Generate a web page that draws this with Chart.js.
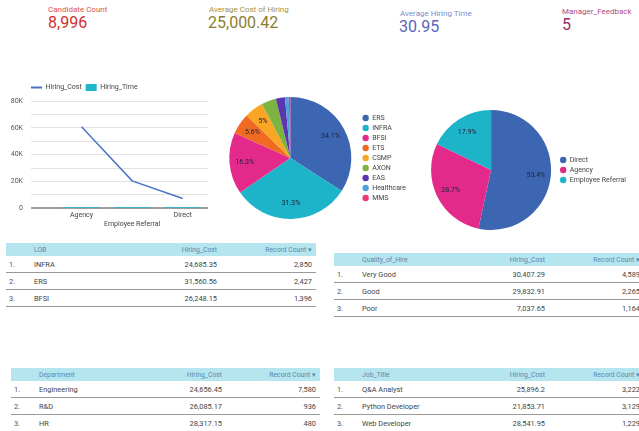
<!DOCTYPE html>
<html>
<head>
<meta charset="utf-8">
<script src="https://cdn.jsdelivr.net/npm/chart.js@4"></script>
<style>
  body { margin: 0; width: 639px; height: 431px; overflow: hidden; background: #fff; position: relative; font-family: Roboto, sans-serif; }
  .abs { position: absolute; white-space: nowrap; }
  .klbl { font-size: 8px; line-height: 8px; }
  .kval { font-size: 16px; line-height: 16px; }
  canvas { position: absolute; }
  table { position: absolute; border-collapse: collapse; table-layout: fixed; font-family: Roboto, sans-serif; }
  th { background: #b5e5ee; color: #5d86b0; font-weight: 400; font-size: 6.8px; height: 13px; padding: 0; text-align: left; }
  td { font-size: 7.4px; color: #444; height: 16px; padding: 0; border-bottom: 1px solid #9a9a9a; }
  .num { padding-left: 3px; color: #555; }
  .r { text-align: right; }
  .last { padding-right: 4px; }
</style>
</head>
<body>

<div class="abs klbl" style="left:48px;top:6px;color:#e0504e">Candidate Count</div>
<div class="abs kval" style="left:48px;top:15px;color:#d32f2f">8,996</div>
<div class="abs klbl" style="left:209px;top:6px;color:#a39447">Average Cost of Hiring</div>
<div class="abs kval" style="left:208px;top:15px;color:#8c7e2e">25,000.42</div>
<div class="abs klbl" style="left:400px;top:10px;color:#7f8bd0">Average Hiring Time</div>
<div class="abs kval" style="left:399px;top:19px;color:#5866bd">30.95</div>
<div class="abs klbl" style="left:562px;top:8px;color:#b04a7e">Manager_Feedback</div>
<div class="abs kval" style="left:562px;top:17px;color:#9c2a62">5</div>

<canvas id="lineChart" width="208" height="151" style="left:0;top:80px"></canvas>
<canvas id="lobPie" width="195" height="140" style="left:221px;top:88px"></canvas>
<canvas id="sourcePie" width="211" height="140" style="left:425px;top:100px"></canvas>

<table id="tLob" style="left:6px;top:243px;width:310px"></table>
<table id="tQuality" style="left:334px;top:253px;width:310px"></table>
<table id="tDept" style="left:11px;top:368px;width:309px"></table>
<table id="tJob" style="left:334px;top:368px;width:310px"></table>

<script>
// line chart
const sources = ['Agency', 'Employee Referral', 'Direct'];
const hiringCost = [60800, 20400, 7200];
const hiringTime = [31, 30, 31];

// pie: LOB share
const lobs = ['ERS', 'INFRA', 'BFSI', 'ETS', 'CSMP', 'AXON', 'EAS', 'Healthcare', 'MMS'];
const lobShare = [34.1, 31.3, 16.3, 5.6, 5.0, 3.9, 2.4, 1.0, 0.4];
const lobColors = ['#3c66b1', '#1db4ca', '#e32a8a', '#f06a21', '#f8a623', '#7cb342', '#5c35b0', '#4fa0e0', '#ec3b73'];

// pie: source share
const sourceNames = ['Direct', 'Agency', 'Employee Referral'];
const sourceShare = [53.4, 28.7, 17.9];
const sourceColors = ['#3c66b1', '#e32a8a', '#1db4ca'];

// tables
const lobRows = ['INFRA', 'ERS', 'BFSI'];
const lobCost = [24685.35, 31560.56, 26248.15];
const lobCount = [2850, 2427, 1396];

const qualityRows = ['Very Good', 'Good', 'Poor'];
const qualityCost = [30407.29, 29832.91, 7037.65];
const qualityCount = [4589, 2265, 1164];

const deptRows = ['Engineering', 'R&D', 'HR'];
const deptCost = [24656.45, 26085.17, 28317.15];
const deptCount = [7580, 936, 480];

const jobRows = ['Q&A Analyst', 'Python Developer', 'Web Developer'];
const jobCost = [25896.2, 21853.71, 28541.95];
const jobCount = [3222, 3129, 1229];

const fmt = v => v.toLocaleString('en-US', { maximumFractionDigits: 2 });

function buildTable(id, dim, names, cost, count) {
  const t = document.getElementById(id);
  const w = parseFloat(t.style.width);
  let html = `<colgroup><col style="width:28px"><col style="width:133px"><col style="width:50px"><col style="width:${w - 211}px"></colgroup>`;
  html += `<tr><th></th><th>${dim}</th><th class="r">Hiring_Cost</th><th class="r last">Record Count &#9662;</th></tr>`;
  names.forEach((n, i) => {
    html += `<tr><td class="num">${i + 1}.</td><td>${n.replace('&', '&amp;')}</td><td class="r">${fmt(cost[i])}</td><td class="r last">${fmt(count[i])}</td></tr>`;
  });
  t.innerHTML = html;
}
buildTable('tLob', 'LOB', lobRows, lobCost, lobCount);
buildTable('tQuality', 'Quality_of_Hire', qualityRows, qualityCost, qualityCount);
buildTable('tDept', 'Department', deptRows, deptCost, deptCount);
buildTable('tJob', 'Job_Title', jobRows, jobCost, jobCount);

Chart.defaults.font.family = 'Roboto';
Chart.defaults.animation = false;

// nudge the legend so it starts over the plot area, not the axis
const shiftLegend = {
  id: 'shiftLegend',
  afterLayout(chart, args, opts) {
    chart.legend.left += opts.dx;
    chart.legend.right += opts.dx;
  }
};

new Chart(document.getElementById('lineChart'), {
  type: 'line',
  data: {
    datasets: [
      {
        type: 'line',
        label: 'Hiring_Cost',
        data: sources.map((s, i) => ({ x: i, y: hiringCost[i] })),
        borderColor: '#4a74c4',
        borderWidth: 1.5,
        pointRadius: 0,
        tension: 0
      },
      {
        type: 'bar',
        label: 'Hiring_Time',
        data: sources.map((s, i) => ({ x: i, y: hiringTime[i] })),
        backgroundColor: '#1fb5c9',
        borderWidth: 0
      }
    ]
  },
  options: {
    responsive: false,
    layout: { padding: 0 },
    plugins: {
      tooltip: { enabled: false },
      shiftLegend: { dx: 27 },
      legend: {
        align: 'start',
        labels: {
          usePointStyle: true,
          pointStyleWidth: 11,
          boxHeight: 7,
          padding: 4,
          color: '#444',
          font: { size: 7 },
          generateLabels: (chart) => Chart.defaults.plugins.legend.labels.generateLabels(chart).map((l, i) => ({
            ...l,
            pointStyle: i === 0 ? 'line' : 'rect',
            lineWidth: i === 0 ? 2 : 0,
            strokeStyle: i === 0 ? '#4a74c4' : '#1fb5c9',
            fillStyle: i === 0 ? '#4a74c4' : '#1fb5c9'
          }))
        }
      }
    },
    scales: {
      x: {
        type: 'linear',
        min: -1,
        max: 2.5,
        offset: false,
        grid: { display: false, drawTicks: false },
        border: { display: false },
        ticks: {
          stepSize: 1,
          includeBounds: false,
          autoSkip: false,
          maxRotation: 0,
          padding: 3,
          color: '#444',
          font: { size: 7 },
          callback: (v) => {
            const i = Math.round(v);
            if (v !== i || i < 0 || i >= sources.length) return '';
            return i % 2 ? ['', sources[i]] : sources[i];
          }
        }
      },
      y: {
        min: 0,
        max: 80000,
        border: { display: false },
        grid: {
          drawTicks: false,
          color: (c) => c.tick.value === 0 ? '#9e9e9e' : '#e3e3e3',
          lineWidth: (c) => c.tick.value === 0 ? 2 : 1
        },
        ticks: {
          stepSize: 10000,
          padding: 8,
          color: '#555',
          font: { size: 7 },
          callback: (v) => v % 20000 ? '' : (v ? v / 1000 + 'K' : '0')
        },
        afterFit: (s) => { s.width = 31; }
      }
    }
  },
  plugins: [shiftLegend]
});

const sliceLabels = {
  id: 'sliceLabels',
  afterDatasetsDraw(chart) {
    const ctx = chart.ctx;
    const vals = chart.data.datasets[0].data;
    const total = vals.reduce((a, b) => a + b, 0);
    ctx.save();
    ctx.font = '7px Roboto';
    ctx.fillStyle = '#23233a';
    ctx.textAlign = 'center';
    ctx.textBaseline = 'middle';
    chart.getDatasetMeta(0).data.forEach((arc, i) => {
      const pct = vals[i] / total * 100;
      if (pct < 5) return;
      const mid = (arc.startAngle + arc.endAngle) / 2;
      const r = arc.outerRadius * 0.75;
      ctx.fillText(parseFloat(pct.toFixed(1)) + '%', arc.x + Math.cos(mid) * r, arc.y + Math.sin(mid) * r);
    });
    ctx.restore();
  }
};

function pieOptions() {
  return {
    responsive: false,
    layout: { padding: 0 },
    plugins: {
      tooltip: { enabled: false },
      legend: {
        position: 'right',
        labels: {
          usePointStyle: true,
          pointStyle: 'circle',
          boxWidth: 6,
          boxHeight: 4.5,
          padding: 3,
          color: '#444',
          font: { size: 7 }
        }
      }
    }
  };
}

new Chart(document.getElementById('lobPie'), {
  type: 'pie',
  data: {
    labels: lobs,
    datasets: [{ data: lobShare, backgroundColor: lobColors, borderWidth: 0, hoverOffset: 0, radius: 61 }]
  },
  options: pieOptions(),
  plugins: [sliceLabels]
});

new Chart(document.getElementById('sourcePie'), {
  type: 'pie',
  data: {
    labels: sourceNames,
    datasets: [{ data: sourceShare, backgroundColor: sourceColors, borderWidth: 0, hoverOffset: 0, radius: 60 }]
  },
  options: pieOptions(),
  plugins: [sliceLabels]
});
</script>
</body>
</html>
